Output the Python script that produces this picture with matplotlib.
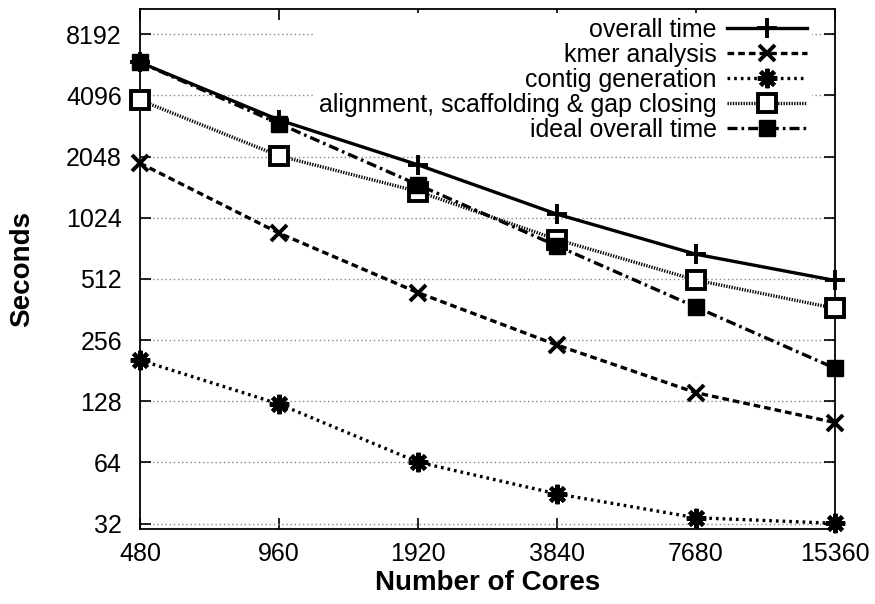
import numpy as np
import matplotlib
matplotlib.use("Agg")
import matplotlib.pyplot as plt
from matplotlib.ticker import FixedLocator, FixedFormatter, NullLocator

plt.rcParams["font.family"] = ["Liberation Sans", "DejaVu Sans"]

# data
cores = [480, 960, 1920, 3840, 7680, 15360]
overall = [5950, 3100, 1864, 1066, 677, 503]
kmer = [1900, 860, 438, 242, 141, 100.5]
contig = [204, 124, 64.2, 44.8, 34.2, 32.1]
alignment = [3886, 2064, 1378, 800, 505, 367]
ideal = [5950, 2975, 1487, 744, 372, 186]

y_ticks = [32, 64, 128, 256, 512, 1024, 2048, 4096, 8192]

FS = 18
LW = 2.4

fig = plt.figure(figsize=(8.75, 6.04), dpi=100)
ax = fig.add_axes([0.16, 0.1237, 0.7943, 0.8614])

common = dict(color="black", lw=LW, clip_on=False, zorder=5)
ax.plot(cores, overall, ls="-", marker="+", ms=15, mew=2.8,
        label="overall time", **common)
ax.plot(cores, kmer, ls=(0, (2.0, 1.2)), marker="x", ms=12, mew=2.8,
        label="kmer analysis", **common)
ax.plot(cores, contig, ls=(0, (0.8, 1.2)), marker=(8, 2, 0), ms=14, mew=3.0,
        label="contig generation", **common)
ax.plot(cores, alignment, ls=(0, (0.4, 0.4)), marker="s", ms=12.5, mew=2.8,
        mfc="white", label="alignment, scaffolding & gap closing", **common)
ax.plot(cores, ideal, ls=(0, (3.0, 1.2, 0.8, 1.2)), marker="s", ms=12,
        mfc="black", label="ideal overall time", **common)

ax.set_xscale("log", base=2)
ax.set_yscale("log", base=2)
ax.set_xlim(480, 15360)
ax.set_ylim(30, 10900)

ax.xaxis.set_major_locator(FixedLocator(cores))
ax.xaxis.set_major_formatter(FixedFormatter([str(c) for c in cores]))
ax.xaxis.set_minor_locator(NullLocator())
ax.yaxis.set_major_locator(FixedLocator(y_ticks))
ax.yaxis.set_major_formatter(FixedFormatter([str(v) for v in y_ticks]))
ax.yaxis.set_minor_locator(NullLocator())

ax.tick_params(which="major", direction="in", length=8, width=1.2,
               top=True, right=True, labelsize=FS, colors="black")
ax.tick_params(axis="x", pad=9)
ax.tick_params(axis="y", pad=13)
for sp in ax.spines.values():
    sp.set_linewidth(1.3)

ax.yaxis.grid(True, color="#888888", ls=(0, (1, 2)), lw=1.0, zorder=0)
ax.set_axisbelow(True)

ax.set_xlabel("Number of Cores", fontsize=20, fontweight="bold", labelpad=3)
ax.set_ylabel("Seconds", fontsize=20, fontweight="bold", labelpad=22)

leg = ax.legend(loc="upper right", bbox_to_anchor=(0.972, 1.0), markerfirst=False,
                fontsize=18, frameon=True, framealpha=1, facecolor="white",
                edgecolor="none", fancybox=False, handlelength=3.2,
                handletextpad=0.4, labelspacing=0.04, borderpad=0.2,
                borderaxespad=0.15)
leg.set_zorder(4)

fig.savefig("out.png", dpi=100)
